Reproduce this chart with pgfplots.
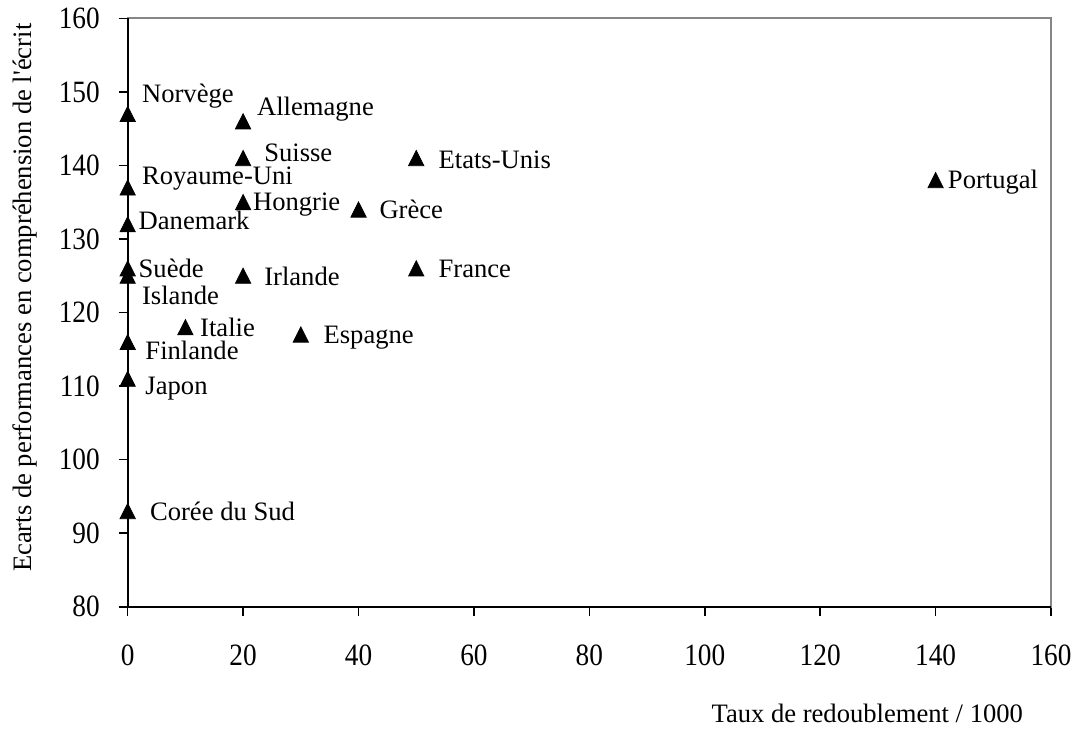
\documentclass[border=0pt]{standalone}
\usepackage{fontspec}
\setmainfont{Liberation Serif}
\newfontfamily\tickfont[FakeStretch=0.88]{Liberation Serif}
\usepackage{pgfplots}
\usepackage{pgfplotstable}
\pgfplotsset{compat=1.18}

\definecolor{bord}{RGB}{134,134,134}

% x = taux de redoublement, y = ecart ; dx/dy = decalage de l'etiquette (pt)
\pgfplotstableread[col sep=comma]{
x,y,dx,dy,label
0,147,7,7.1,Norvège
20,146,6.8,4.1,Allemagne
20,141,10.4,-0.5,Suisse
0,137,7,3,Royaume-Uni
20,135,4.8,-2.9,Hongrie
0,132,5.3,-1.5,Danemark
40,134,10.3,-3.1,Grèce
50,141,11,-3.8,Etats-Unis
140,138,6,-2.8,Portugal
0,126,5.3,-3.2,Suède
0,125,7,-12.9,Islande
20,125,10.4,-3.4,Irlande
50,126,11,-3.2,France
10,118,7.2,-3.6,Italie
30,117,11.2,-3.1,Espagne
0,116,8.7,-7.5,Finlande
0,111,8.7,-6.4,Japon
0,93,11,-3.6,Corée du Sud
}\pays

\begin{document}
\begin{tikzpicture}
\useasboundingbox (-63.85pt,-63.65pt) rectangle (476.15pt,303.35pt);
\begin{axis}[
    scale only axis, width=461.65pt, height=294.2pt,
    xmin=0, xmax=160, ymin=80, ymax=160,
    xtick={0,20,...,160}, ytick={80,90,...,160},
    xtick pos=bottom, ytick pos=left,
    tick align=outside, major tick length=4.5pt,
    tick style={black, line width=0.8pt},
    axis line style={draw=bord, line width=1pt},
    /pgf/number format/assume math mode=true,
    ticklabel style={font=\tickfont\fontsize{15.5}{18}\selectfont, inner sep=0pt},
    xticklabel style={anchor=north, yshift=-14.5pt},
    yticklabel style={anchor=east, xshift=-9.3pt},
    xlabel={Taux de redoublement / 1000},
    ylabel={Ecarts de performances en compréhension de l\textquotesingle écrit},
    label style={font=\fontsize{13.3}{16}\selectfont, inner sep=0pt},
    xlabel style={at={(axis description cs:0.801,0)}, anchor=base, yshift=-57.65pt},
    ylabel style={at={(axis description cs:0,0.525)}, anchor=base, yshift=47.85pt},
    clip=false,
]
\addplot[only marks, mark=triangle*, mark size=4.4pt, black,
    mark options={yscale=1.15, yshift=-1.1pt},
    point meta=explicit symbolic,
    visualization depends on={\thisrow{dx} \as \dx},
    visualization depends on={\thisrow{dy} \as \dy},
    nodes near coords,
    nodes near coords style={font=\fontsize{13.3}{16}\selectfont, anchor=base west,
        inner sep=0pt, xshift=\dx*1pt, yshift=\dy*1pt},
] table[x=x, y=y, meta=label] {\pays};
\draw[black, line width=1pt] (rel axis cs:0,1) -- (rel axis cs:0,0) -- (rel axis cs:1,0);
\end{axis}
\end{tikzpicture}
\end{document}
